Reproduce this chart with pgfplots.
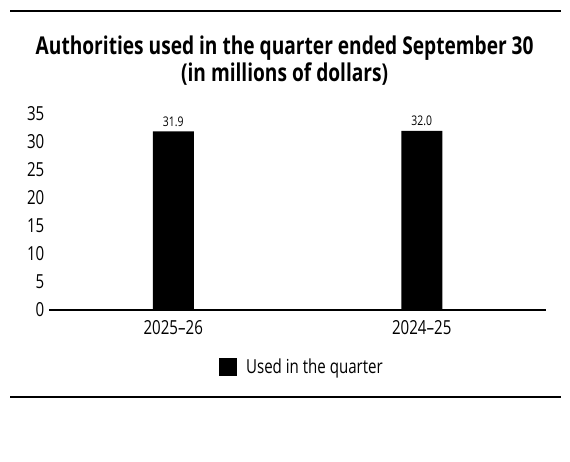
\documentclass[border=0pt]{standalone}
\usepackage{pgfplots}
\pgfplotsset{compat=1.18}
\usepackage{fontspec}
\setmainfont{Open Sans}[FakeStretch=0.78]
\begin{document}
\begin{tikzpicture}
% page frame (570 x 461 px, 1 px = 0.75pt)
\path (0,0) rectangle (427.5pt,345.75pt);
\draw[line width=1.1pt] (7.5pt,337.5pt) -- (420.75pt,337.5pt);
\draw[line width=1.1pt] (7.5pt,48pt) -- (420.75pt,48pt);
\node[font=\bfseries\fontsize{18.4}{20.5}\selectfont, align=center] at (213.5pt,300.5pt)
  {Authorities used in the quarter ended September 30\\(in millions of dollars)};
\begin{axis}[
    at={(36.75pt,113.25pt)}, anchor=south west,
    scale only axis, width=372.75pt, height=147pt,
    xmin=-0.5, xmax=1.5, ymin=0, ymax=35,
    ytick={0,5,...,35},
    xtick=data, xticklabels={2025--26, 2024--25},
    axis lines*=left,
    y axis line style={draw=none},
    x axis line style={line width=1.3pt, -},
    major tick length=0pt,
    tick label style={font=\fontsize{14.5}{16}\selectfont},
    xticklabel style={yshift=-4.5pt},
    /pgf/number format/assume math mode=true,
    ybar, bar width=30.75pt, bar shift=0pt,
    nodes near coords,
    nodes near coords style={font=\fontsize{10}{12}\selectfont, /pgf/number format/fixed, /pgf/number format/fixed zerofill, /pgf/number format/precision=1},
    legend style={at={(0.51,-0.29)}, anchor=center, draw=none, font=\fontsize{14.5}{16}\selectfont,
      /tikz/every odd column/.append style={column sep=4.5pt}},
    legend image code/.code={\fill[black] (0pt,-6.75pt) rectangle (13.5pt,6.75pt);},
]
\addplot[fill=black, draw=none] coordinates {(0,31.9) (1,32.0)};
\addlegendentry{Used in the quarter}
\end{axis}
\end{tikzpicture}
\end{document}
